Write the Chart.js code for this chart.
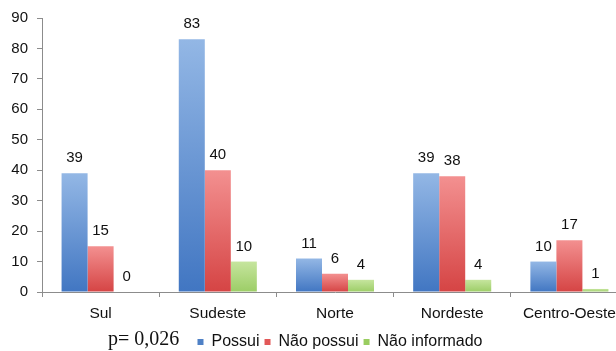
<!DOCTYPE html>
<html>
<head>
<meta charset="utf-8">
<script src="https://cdn.jsdelivr.net/npm/chart.js@4.4.0/dist/chart.umd.min.js"></script>
<style>
  html, body { margin: 0; padding: 0; background: #fff; overflow: hidden; }
  #wrap { position: relative; width: 640px; height: 351px; }
</style>
</head>
<body>
<div id="wrap"><canvas id="chart"></canvas></div>
<script>
const categories = ["Sul", "Sudeste", "Norte", "Nordeste", "Centro-Oeste"];
const seriesNames = ["Possui", "Não possui", "Não informado"];
const possui = [39, 83, 11, 39, 10];
const naoPossui = [15, 40, 6, 38, 17];
const naoInformado = [0, 10, 4, 4, 1];
const yTickValues = [0, 10, 20, 30, 40, 50, 60, 70, 80, 90];
const pValueText = "p= 0,026";

const solidColors = ["#4f81c6", "#e25858", "#99cd60"];
const gradTop = ["#93b7e5", "#f39090", "#c6e59e"];
const gradBottom = ["#4176c2", "#d54444", "#9ccd66"];
const SANS = "'Liberation Sans', Arial, sans-serif";

// vertical gradient per bar, from its top down to the baseline
function barFill(i) {
  return (ctx) => {
    if (ctx.type !== "data") return solidColors[i];
    const y = ctx.chart.scales.y;
    if (!y) return solidColors[i];
    const top = y.getPixelForValue(ctx.raw);
    const bottom = y.getPixelForValue(0);
    if (!isFinite(top) || bottom - top < 1) return gradBottom[i];
    const g = ctx.chart.ctx.createLinearGradient(0, top, 0, bottom);
    g.addColorStop(0, gradTop[i]);
    g.addColorStop(1, gradBottom[i]);
    return g;
  };
}

// numbers above the bars
const valueLabels = {
  id: "valueLabels",
  afterDatasetsDraw(chart) {
    const c = chart.ctx;
    c.save();
    c.font = "15px " + SANS;
    c.fillStyle = "#111";
    c.textAlign = "center";
    c.textBaseline = "middle";
    chart.data.datasets.forEach((ds, i) => {
      chart.getDatasetMeta(i).data.forEach((bar, j) => {
        c.fillText(String(ds.data[j]), bar.x, bar.y - 15);
      });
    });
    c.restore();
  }
};

// move the legend to the right of the p value, and write the p value
const legendPlace = {
  id: "legendPlace",
  afterLayout(chart) {
    const lg = chart.legend;
    if (!lg) return;
    const dx = 340 - (lg.left + lg.right) / 2;
    lg.left += dx;
    lg.right += dx;
    const dy = 329 - lg.top;
    lg.top += dy;
    lg.bottom += dy;
  },
  afterDraw(chart) {
    const c = chart.ctx;
    c.save();
    c.font = "20px 'Liberation Serif', 'Times New Roman', serif";
    c.fillStyle = "#111";
    c.textAlign = "left";
    c.textBaseline = "alphabetic";
    c.fillText(pValueText, 108, 345);
    c.restore();
  }
};

const ctx = document.getElementById("chart").getContext("2d");
new Chart(ctx, {
  type: "bar",
  data: {
    labels: categories,
    datasets: [possui, naoPossui, naoInformado].map((vals, i) => ({
      label: seriesNames[i],
      data: vals,
      backgroundColor: barFill(i),
      borderWidth: 0,
      barPercentage: 1,
      categoryPercentage: 0.666,
    })),
  },
  options: {
    responsive: true,
    maintainAspectRatio: false,
    animation: false,
    layout: {
      padding: { top: 17, right: 12, left: 0, bottom: 0 },
    },
    scales: {
      x: {
        grid: { display: true, drawOnChartArea: false, drawTicks: true, tickLength: 5, color: "#8c8c8c", offset: true },
        border: { color: "#8c8c8c", width: 1 },
        ticks: { color: "#111", font: { family: SANS, size: 15.5 }, padding: 7, maxRotation: 0, autoSkip: false },
        afterFit: (scale) => { scale.height = 28; },
      },
      y: {
        min: 0,
        max: 90,
        afterBuildTicks: (scale) => { scale.ticks = yTickValues.map((v) => ({ value: v })); },
        grid: { display: true, drawOnChartArea: false, drawTicks: true, tickLength: 5, color: "#8c8c8c" },
        border: { color: "#8c8c8c", width: 1 },
        ticks: { color: "#111", font: { family: SANS, size: 15 }, padding: 9 },
        afterFit: (scale) => { scale.width = 42; },
      },
    },
    plugins: {
      legend: {
        position: "bottom",
        labels: {
          boxWidth: 6,
          boxHeight: 6,
          padding: 5,
          color: "#111",
          font: { family: SANS, size: 16 },
          generateLabels: (chart) => chart.data.datasets.map((ds, i) => ({
            text: ds.label,
            fillStyle: solidColors[i],
            strokeStyle: solidColors[i],
            lineWidth: 0,
            hidden: false,
            datasetIndex: i,
            fontColor: "#111",
          })),
        },
      },
      tooltip: { enabled: false },
    },
  },
  plugins: [valueLabels, legendPlace],
});
</script>
</body>
</html>
